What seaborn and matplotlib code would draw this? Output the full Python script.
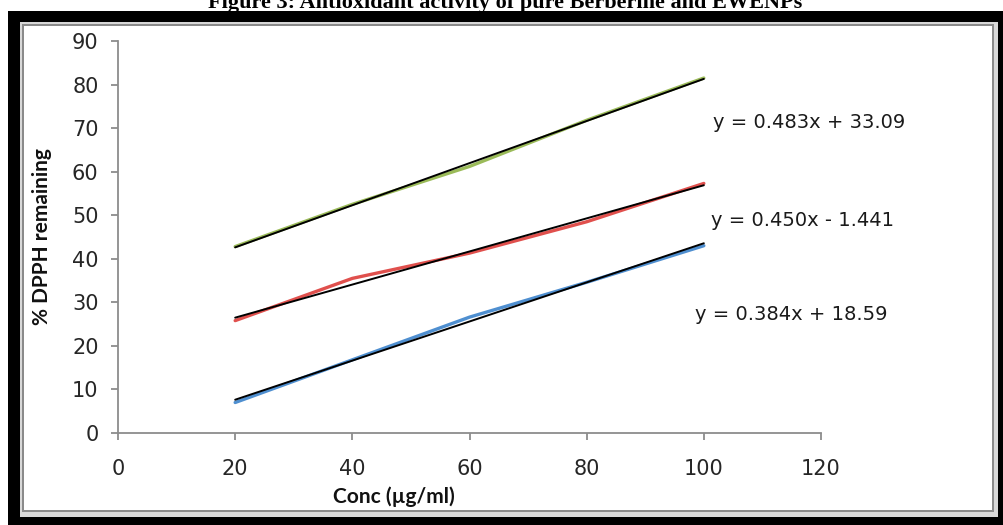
import matplotlib
matplotlib.use('Agg')
import matplotlib.pyplot as plt
from matplotlib.patches import Rectangle
import seaborn as sns
import pandas as pd

# Data
conc = [20, 40, 60, 80, 100]
green_vals = [42.8, 52.5, 61.2, 71.8, 81.5]
red_vals = [25.8, 35.5, 41.3, 48.5, 57.3]
blue_vals = [7.0, 16.8, 26.6, 34.6, 43.0]
equations = ['y = 0.483x + 33.09', 'y = 0.450x - 1.441', 'y = 0.384x + 18.59']
x_ticks = [0, 20, 40, 60, 80, 100, 120]
y_ticks = [0, 10, 20, 30, 40, 50, 60, 70, 80, 90]

W, H = 1004, 525
sns.set_style('white')
plt.rcParams['font.family'] = ['DejaVu Sans']

fig = plt.figure(figsize=(W / 100, H / 100), dpi=100)


def box(x0, y0, x1, y1, **kw):
    # pixel box with top-left origin -> figure fraction rectangle
    fig.patches.append(Rectangle((x0 / W, 1 - y1 / H), (x1 - x0) / W, (y1 - y0) / H,
                                 transform=fig.transFigure, figure=fig, zorder=-5, **kw))


# framed panel
box(8, 11, 1004, 525, facecolor='black', edgecolor='none')
box(20, 22, 998, 517, facecolor='#d8d8d8', edgecolor='none')
box(22, 24, 994, 512, facecolor='#8a8a8a', edgecolor='none')
box(24, 26, 992, 510, facecolor='white', edgecolor='none')

ax = fig.add_axes([118 / W, 1 - 433 / H, (821 - 118) / W, (433 - 41) / H])
ax.set_facecolor('none')

df = pd.DataFrame({'conc': conc * 3,
                   'val': green_vals + red_vals + blue_vals,
                   'series': ['green'] * 5 + ['red'] * 5 + ['blue'] * 5})
palette = {'green': '#9bbb59', 'red': '#e0504d', 'blue': '#4f8fd0'}
sns.lineplot(data=df, x='conc', y='val', hue='series', palette=palette,
             linewidth=2.4, legend=False, ax=ax)

# linear trend lines
for vals in [green_vals, red_vals, blue_vals]:
    sns.regplot(x=conc, y=vals, scatter=False, ci=None, color='black',
                line_kws={'linewidth': 1.4}, ax=ax)

ax.set_xlim(0, 120)
ax.set_ylim(0, 90)
ax.set_xticks(x_ticks)
ax.set_yticks(y_ticks)
ax.set_xlabel('')
ax.set_ylabel('')
for side in ['top', 'right']:
    ax.spines[side].set_visible(False)
for side in ['left', 'bottom']:
    ax.spines[side].set_color('#8c8c8c')
    ax.spines[side].set_linewidth(1.3)
    ax.spines[side].set_clip_on(False)
ax.tick_params(axis='both', direction='out', length=5, width=1.3, color='#8c8c8c',
               labelsize=15, labelcolor='#262626')
ax.tick_params(axis='y', pad=9, left=True)
ax.tick_params(axis='x', pad=14, bottom=True)

# trend equations
fig.text(713 / W, 1 - 123 / H, equations[0], fontsize=14, color='#1a1a1a', va='center')
fig.text(711 / W, 1 - 221 / H, equations[1], fontsize=14, color='#1a1a1a', va='center')
fig.text(695 / W, 1 - 315 / H, equations[2], fontsize=14, color='#1a1a1a', va='center')

# axis titles
fig.text(394 / W, 1 - 497 / H, 'Conc (µg/ml)', fontsize=15, fontweight='bold',
         family=['Lato', 'DejaVu Sans'], ha='center', va='center', color='#111111')
fig.text(42 / W, 1 - 237 / H, '% DPPH remaining', fontsize=15, fontweight='bold',
         family=['Lato', 'DejaVu Sans'], rotation=90, ha='center', va='center',
         color='#111111')

# figure title, partly cut off at the top edge as in the source scan
fig.text(505 / W, 1 - 8 / H, 'Figure 3: Antioxidant activity of pure Berberine and EWENPs',
         fontsize=16, fontweight='bold', family=['Liberation Serif', 'DejaVu Serif'],
         ha='center', va='baseline', color='black')

fig.savefig('out.png', dpi=100)
